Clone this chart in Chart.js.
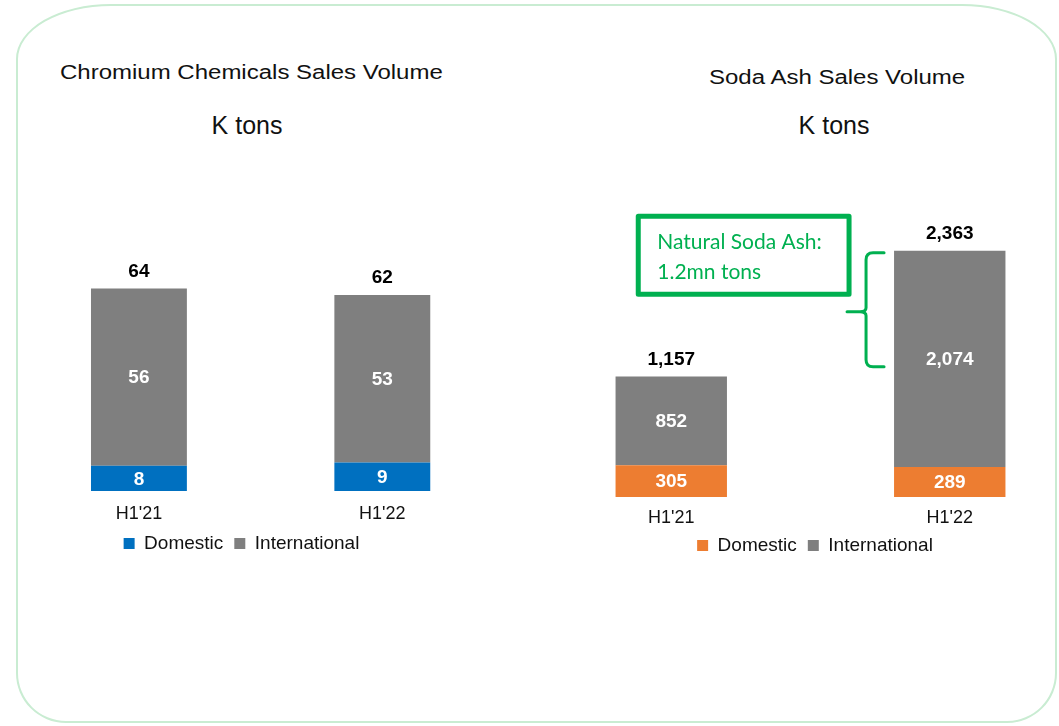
<!DOCTYPE html>
<html>
<head>
<meta charset="utf-8">
<script src="https://cdn.jsdelivr.net/npm/chart.js@4.4.0/dist/chart.umd.min.js"></script>
<style>
  html, body { margin: 0; padding: 0; background: #fff; }
  body { width: 1059px; height: 726px; position: relative; overflow: hidden; font-family: "Liberation Sans", Arial, sans-serif; }
  .frame {
    position: absolute; left: 16px; top: 4px; width: 1037px; height: 715px;
    border: 2px solid #c9ecd2;
    border-radius: 95px 95px 50px 50px / 55px 55px 50px 50px;
  }
  .title { position: absolute; font-size: 20px; line-height: 20px; color: #111; white-space: nowrap; transform: scaleX(1.2); transform-origin: 0 50%; }
  .unit { position: absolute; font-size: 25px; line-height: 25px; color: #111; white-space: nowrap; transform: translateX(-50%); }
  .box { position: absolute; }
</style>
</head>
<body>
<div class="frame"></div>

<div class="title" style="left:60px; top:62px;">Chromium Chemicals Sales Volume</div>
<div class="unit" style="left:247px; top:113px;">K tons</div>
<div class="title" style="left:709px; top:67px;">Soda Ash Sales Volume</div>
<div class="unit" style="left:834px; top:113px;">K tons</div>

<div class="box" style="left:-21px; top:200px; width:525px; height:363px;"><canvas id="chromeChart"></canvas></div>
<div class="box" style="left:532px; top:200px; width:566px; height:365px;"><canvas id="sodaChart"></canvas></div>

<script>
const periods = ["H1'21", "H1'22"];

const chromeDomestic = [8, 9];
const chromeIntl = [56, 53];
const chromeTotal = [64, 62];

const sodaDomestic = [305, 289];
const sodaIntl = [852, 2074];
const sodaTotal = [1157, 2363];

// bracket on the H1'22 soda ash bar: natural soda ash share
const naturalNote = ['Natural Soda Ash:', '1.2mn tons'];
const naturalRange = [1250, 2363];

const BLUE = '#0070c0';
const GREY = '#7f7f7f';
const ORANGE = '#ed7d31';
const GREEN = '#00b050';
const FONT = "'Liberation Sans', Arial, sans-serif";

// white numbers inside the segments, black totals on top
const barLabels = {
  id: 'barLabels',
  afterDatasetsDraw(chart, args, opts) {
    const ctx = chart.ctx;
    ctx.save();
    ctx.font = 'bold 19px ' + FONT;
    ctx.textAlign = 'center';
    ctx.textBaseline = 'middle';
    chart.data.datasets.forEach((ds, i) => {
      chart.getDatasetMeta(i).data.forEach((bar, j) => {
        ctx.fillStyle = '#fff';
        ctx.fillText(ds.data[j].toLocaleString('en-US'), bar.x, (bar.y + bar.base) / 2 + 1);
      });
    });
    const top = chart.getDatasetMeta(chart.data.datasets.length - 1).data;
    opts.totals.forEach((t, j) => {
      ctx.fillStyle = '#000';
      ctx.fillText(t.toLocaleString('en-US'), top[j].x, chart.scales.y.getPixelForValue(t) - 17);
    });
    ctx.restore();
  }
};

// green callout box and curly bracket next to the second soda ash bar
const naturalCallout = {
  id: 'naturalCallout',
  afterDatasetsDraw(chart) {
    if (chart.canvas.id !== 'sodaChart') return;
    const ctx = chart.ctx;
    const y = chart.scales.y;
    const bar = chart.getDatasetMeta(1).data[1];
    const left = bar.x - bar.width / 2;
    const top = y.getPixelForValue(naturalRange[1]) + 2;
    const bottom = y.getPixelForValue(naturalRange[0]);
    const mid = (top + bottom) / 2 + 2;
    const armX = left - 10, spineX = left - 28, tipX = left - 47, r = 7;

    ctx.save();
    ctx.strokeStyle = GREEN;
    ctx.lineWidth = 3;
    ctx.lineCap = 'round';
    ctx.beginPath();
    ctx.moveTo(armX, top);
    ctx.lineTo(spineX + r, top);
    ctx.quadraticCurveTo(spineX, top, spineX, top + r);
    ctx.lineTo(spineX, mid - 4);
    ctx.quadraticCurveTo(spineX, mid, spineX - 6, mid);
    ctx.lineTo(tipX, mid);
    ctx.moveTo(spineX - 6, mid);
    ctx.quadraticCurveTo(spineX, mid, spineX, mid + 4);
    ctx.lineTo(spineX, bottom - r);
    ctx.quadraticCurveTo(spineX, bottom, spineX + r, bottom);
    ctx.lineTo(armX, bottom);
    ctx.stroke();

    // callout frame
    const bx0 = chart.getDatasetMeta(0).data[0].x - 33;
    const bx1 = tipX + 2;
    const by0 = top - 36.5, by1 = top + 41.5;
    ctx.lineWidth = 5;
    ctx.lineJoin = 'round';
    ctx.strokeRect(bx0, by0, bx1 - bx0, by1 - by0);

    ctx.fillStyle = GREEN;
    ctx.font = '21px Lato, "Open Sans", sans-serif';
    ctx.textAlign = 'left';
    ctx.textBaseline = 'alphabetic';
    ctx.fillText(naturalNote[0], bx0 + 19, by0 + 33);
    ctx.fillText(naturalNote[1], bx0 + 19, by0 + 62.5);
    ctx.restore();
  }
};

function makeChart(id, domestic, intl, totals, domColor, yMax, yGutter, gutterSide, tickPad, axisHeight) {
  return new Chart(document.getElementById(id), {
    type: 'bar',
    data: {
      labels: periods,
      datasets: [
        { label: 'Domestic', data: domestic, backgroundColor: domColor, borderWidth: 0 },
        { label: 'International', data: intl, backgroundColor: GREY, borderWidth: 0 }
      ]
    },
    options: {
      responsive: true,
      maintainAspectRatio: false,
      animation: false,
      events: [],
      layout: { padding: 0 },
      datasets: { bar: { categoryPercentage: 1, barPercentage: id === 'chromeChart' ? 0.394 : 0.4 } },
      scales: {
        x: {
          stacked: true,
          grid: { display: false, drawTicks: false },
          border: { display: false },
          ticks: { color: '#111', font: { family: FONT, size: 18 }, padding: tickPad },
          afterFit(s) { s.height = axisHeight; }
        },
        y: {
          stacked: true,
          position: gutterSide,
          min: 0,
          max: yMax,
          grid: { display: false, drawTicks: false },
          border: { display: false },
          ticks: { display: false },
          afterFit(s) { s.width = yGutter; }
        }
      },
      plugins: {
        legend: {
          position: 'bottom',
          labels: {
            boxWidth: 11,
            boxHeight: 11,
            padding: 11,
            color: '#111',
            font: { family: FONT, size: 19 }
          }
        },
        tooltip: { enabled: false },
        barLabels: { totals: totals }
      }
    },
    plugins: [barLabels, naturalCallout]
  });
}

makeChart('chromeChart', chromeDomestic, chromeIntl, chromeTotal, BLUE, 92, 38.25, 'left', 12, 32);
makeChart('sodaChart', sodaDomestic, sodaIntl, sodaTotal, ORANGE, 2850, 9, 'right', 10, 28);
</script>
</body>
</html>
